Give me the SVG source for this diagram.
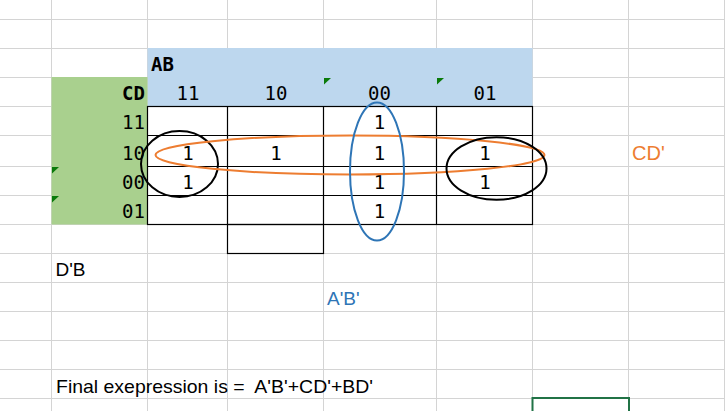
<svg xmlns="http://www.w3.org/2000/svg" width="725" height="411" viewBox="0 0 725 411">
<style>
.grid{stroke:#d4d4d4;stroke-width:1;fill:none}
.tb{stroke:#000;stroke-width:1.2;fill:none}
.mono{font-family:"DejaVu Sans Mono","Liberation Mono",monospace;font-size:19px;fill:#000}
.b{font-weight:bold}
.lab{font-family:"Liberation Sans","Open Sans",sans-serif;font-size:19px}
.tri{fill:#0a7a0a}
</style>
<rect width="725" height="411" fill="#fff"/>
<g id="gridlines" class="grid">
<path d="M51.5 0V411M147.5 0V411M227.5 0V411M323.5 0V411M436.5 0V411M532.5 0V411M628.5 0V411M724.5 0V411"/>
<path d="M0 19.5H725M0 48.5H725M0 77.5H725M0 106.5H725M0 135.5H725M0 166.5H725M0 195.5H725M0 224.5H725M0 253.5H725M0 282.5H725M0 311.5H725M0 340.5H725M0 369.5H725M0 398.5H725"/>
</g>
<rect id="header-ab" x="147.5" y="48" width="385" height="58.5" fill="#bdd7ee"/>
<rect id="header-cd" x="51.5" y="77" width="96" height="147.5" fill="#a9d08e"/>
<rect x="148" y="107" width="384" height="117" fill="#fff"/>
<rect x="228" y="225" width="95" height="28" fill="#fff"/>
<g id="table" class="tb">
<rect x="147.5" y="106.5" width="385" height="118"/>
<path d="M147.5 135.5H532.5M147.5 166.5H532.5M147.5 195.5H532.5M227.5 106.5V224.5M323.5 106.5V224.5M436.5 106.5V224.5"/>
<rect x="227.5" y="224.5" width="96" height="29"/>
</g>
<g id="markers">
<polygon class="tri" points="324,78 331,78 324,84.5"/>
<polygon class="tri" points="437,78 444,78 437,84.5"/>
<polygon class="tri" points="52,167 59,167 52,173.5"/>
<polygon class="tri" points="52,196 59,196 52,202.5"/>
</g>
<g id="labels" class="mono">
<text x="151" y="71" class="b">AB</text>
<text x="145" y="100" class="b" text-anchor="end">CD</text>
<text x="188" y="100" text-anchor="middle">11</text>
<text x="276" y="100" text-anchor="middle">10</text>
<text x="379.5" y="100" text-anchor="middle">00</text>
<text x="485" y="100" text-anchor="middle">01</text>
<text x="145" y="129" text-anchor="end">11</text>
<text x="145" y="160" text-anchor="end">10</text>
<text x="145" y="188.5" text-anchor="end">00</text>
<text x="145" y="217.5" text-anchor="end">01</text>
</g>
<g id="cells" class="mono" text-anchor="middle">
<text x="379.5" y="129">1</text>
<text x="188" y="160">1</text>
<text x="276" y="160">1</text>
<text x="379.5" y="160">1</text>
<text x="485" y="160">1</text>
<text x="188" y="188.5">1</text>
<text x="379.5" y="188.5">1</text>
<text x="485" y="188.5">1</text>
<text x="379.5" y="217.5">1</text>
</g>
<g id="groups" fill="none" stroke-width="2">
<ellipse id="g-bd" cx="179.5" cy="164" rx="38.5" ry="33" stroke="#000"/>
<ellipse id="g-cd" cx="350" cy="155" rx="194.5" ry="19.5" stroke="#ed7d31"/>
<ellipse id="g-ab" cx="377" cy="171.5" rx="27" ry="69" stroke="#2e75b6"/>
<ellipse id="g-bd2" cx="496.5" cy="168.5" rx="50" ry="31.3" stroke="#000"/>
</g>
<g id="notes" class="lab">
<text x="632" y="160" fill="#ed7d31" font-size="20">CD'</text>
<text x="55.5" y="276" fill="#000">D'B</text>
<text x="327" y="305" fill="#2e75b6">A'B'</text>
<text x="56" y="392.5" fill="#000" style="white-space:pre" textLength="317" lengthAdjust="spacingAndGlyphs">Final exepression is =  A'B'+CD'+BD'</text>
</g>
<rect id="selection" x="532.5" y="398" width="96.5" height="20" fill="none" stroke="#217346" stroke-width="2"/>
</svg>
